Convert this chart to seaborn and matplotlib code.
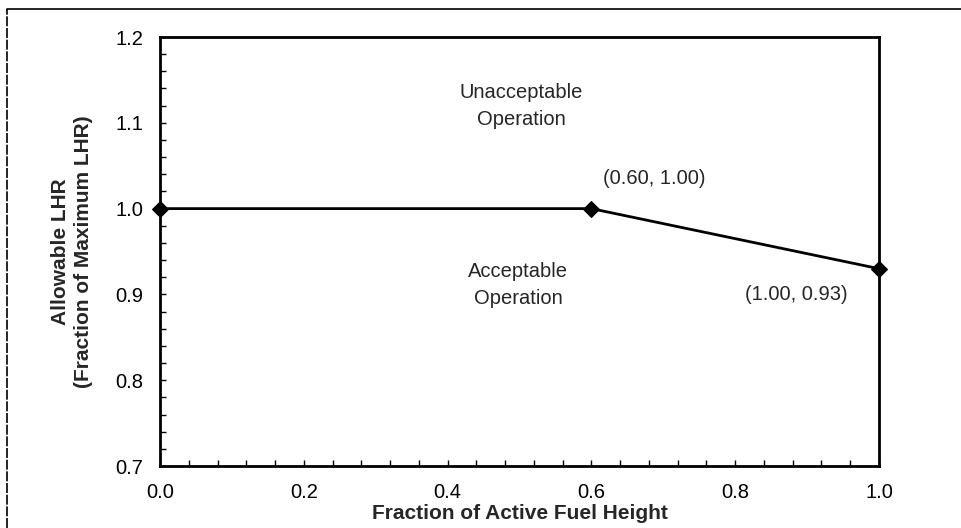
import pandas as pd
import matplotlib.pyplot as plt
import seaborn as sns
from matplotlib.ticker import MultipleLocator
from matplotlib.lines import Line2D

# Datos de la curva limite
fraccion_altura = [0.0, 0.6, 1.0]
lhr_permitido = [1.0, 1.0, 0.93]
etiquetas_puntos = ["(0.60, 1.00)", "(1.00, 0.93)"]

df = pd.DataFrame({"altura": fraccion_altura, "lhr": lhr_permitido})

sns.set_style("white")
plt.rcParams["font.family"] = ["Liberation Sans", "DejaVu Sans"]

fig = plt.figure(figsize=(9.62, 5.28), dpi=100)
ax = fig.add_axes([0.1663, 0.1174, 0.7474, 0.8125])

sns.lineplot(ax=ax, data=df, x="altura", y="lhr", color="black", linewidth=2,
             marker="D", markersize=8, markeredgecolor="black", clip_on=False, zorder=5)

ax.set_xlim(0.0, 1.0)
ax.set_ylim(0.7, 1.2)
ax.xaxis.set_major_locator(MultipleLocator(0.2))
ax.xaxis.set_minor_locator(MultipleLocator(0.04))
ax.yaxis.set_major_locator(MultipleLocator(0.1))
ax.yaxis.set_minor_locator(MultipleLocator(0.02))
ax.xaxis.set_major_formatter(lambda v, p: f"{v:.1f}")
ax.yaxis.set_major_formatter(lambda v, p: f"{v:.1f}")

ax.tick_params(axis="both", which="both", direction="in", length=4, width=1,
               bottom=True, left=True, top=False, right=False,
               labelsize=14.5, colors="black")
ax.tick_params(axis="x", which="both", pad=12)
ax.tick_params(axis="y", which="both", pad=12)

for s in ax.spines.values():
    s.set_linewidth(2)
    s.set_color("black")

ax.set_xlabel("Fraction of Active Fuel Height", fontsize=15, fontweight="bold", labelpad=2)
ax.set_ylabel("Allowable LHR\n(Fraction of Maximum LHR)", fontsize=15, fontweight="bold",
              labelpad=16, linespacing=1.25)

# Textos de zonas
ax.text(0.503, 1.12, "Unacceptable\nOperation", ha="center", va="center", fontsize=14.5, linespacing=1.55)
ax.text(0.498, 0.911, "Acceptable\nOperation", ha="center", va="center", fontsize=14.5, linespacing=1.5)
ax.text(0.688, 1.035, etiquetas_puntos[0], ha="center", va="center", fontsize=14.5)
ax.text(0.885, 0.900, etiquetas_puntos[1], ha="center", va="center", fontsize=14.5)

# Marco exterior (solo arriba e izquierda visibles)
fig.add_artist(Line2D([7 / 962, 7 / 962], [0, 1 - 9 / 528], transform=fig.transFigure,
                      color="black", linewidth=1.2, linestyle=(0, (6, 1))))
fig.add_artist(Line2D([7 / 962, 1], [1 - 9 / 528, 1 - 9 / 528], transform=fig.transFigure,
                      color="black", linewidth=1.2))

fig.savefig("out.png", dpi=100)
